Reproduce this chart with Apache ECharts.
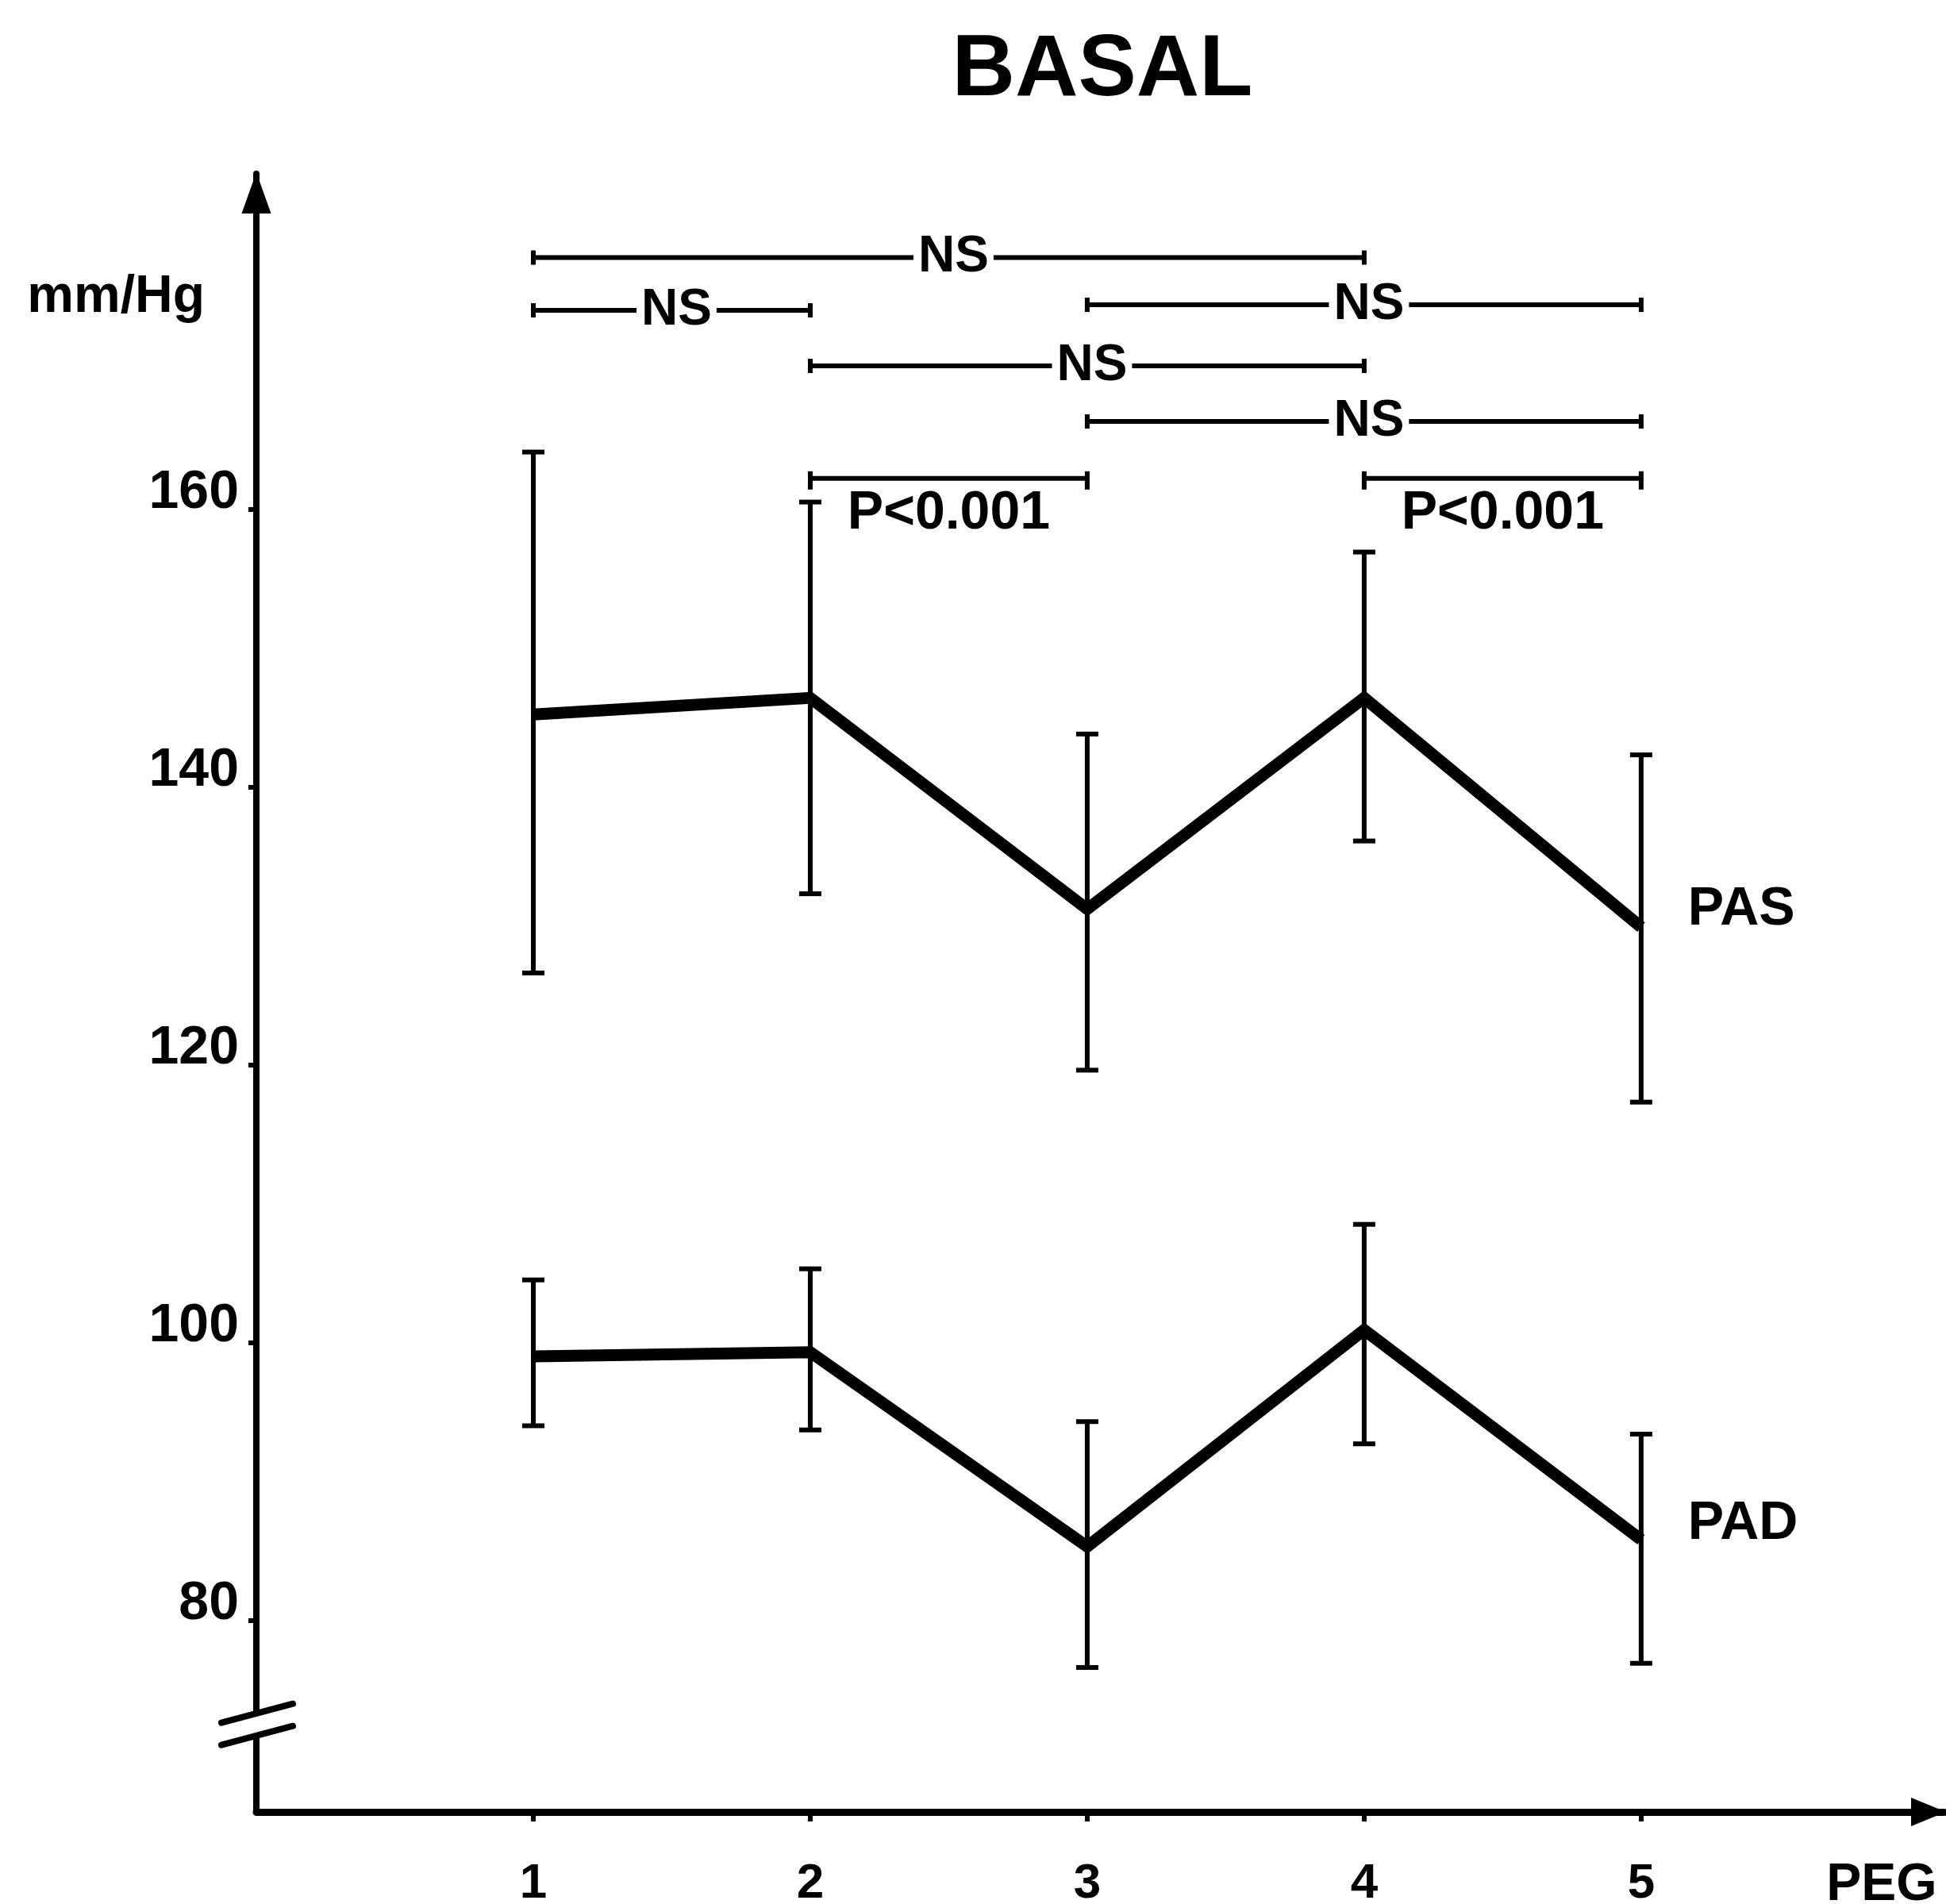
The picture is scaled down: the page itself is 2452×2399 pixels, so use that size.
<!DOCTYPE html>
<html><head><meta charset="utf-8">
<script src="https://cdn.jsdelivr.net/npm/echarts@6/dist/echarts.min.js"></script>
<style>html,body{margin:0;padding:0;background:#fff}#c{width:2452px;height:2399px}</style>
</head><body><div id="c"></div>
<script>
// ---- data ----
const groups   = [1, 2, 3, 4, 5];
const pasMean  = [145.2, 146.4, 131.2, 146.4, 129.9];
const pasLow   = [126.6, 132.3, 119.6, 136.1, 117.3];
const pasHigh  = [164.1, 160.5, 143.8, 156.9, 142.3];
const padMean  = [99.0, 99.3, 85.3, 100.9, 85.8];
const padLow   = [94.0, 93.7, 76.6, 92.7, 76.9];
const padHigh  = [104.5, 105.3, 94.3, 108.5, 93.4];
const yTicks   = [80, 100, 120, 140, 160];
const sigFrom  = [1, 1, 3, 2, 3, 2, 4];
const sigTo    = [4, 2, 5, 4, 5, 3, 5];
const sigLevel = [178.1, 174.3, 174.7, 170.3, 166.3, 162.2, 162.2];
const sigText  = ['NS', 'NS', 'NS', 'NS', 'NS', 'P<0.001', 'P<0.001'];
const breakMarks = [71.7, 73.3];

const FONT = '"Liberation Sans", Arial, Helvetica, sans-serif';
const chart = echarts.init(document.getElementById('c'), null, {renderer: 'canvas'});

const errData = groups.map((g, i) => [g, pasLow[i], pasHigh[i]])
  .concat(groups.map((g, i) => [g, padLow[i], padHigh[i]]));
const sigData = sigFrom.map((f, i) => [f, sigTo[i], sigLevel[i], i]);

const lbl = (t, dy) => ({show: true, formatter: t, distance: 59, offset: [0, dy],
  fontSize: 68, fontWeight: 'bold', color: '#000', fontFamily: FONT});

chart.setOption({
  animation: false,
  backgroundColor: '#fff',
  title: {text: 'BASAL', left: 1384, top: 30, textAlign: 'center',
    textStyle: {fontSize: 110, fontWeight: 'bold', color: '#000', fontFamily: FONT}},
  grid: {left: 323, right: 2, top: 219, bottom: 116, containLabel: false, outerBoundsMode: 'none'},
  xAxis: {
    type: 'value', min: 0, max: 6.095,
    splitLine: {show: false},
    axisLine: {show: true, symbol: ['none', 'triangle'], symbolSize: [36, 44], symbolOffset: [0, -20],
      lineStyle: {color: '#000', width: 9}},
    axisTick: {show: true, customValues: groups, length: 12, lineStyle: {color: '#000', width: 6}},
    axisLabel: {customValues: groups, margin: 60, fontSize: 62, fontWeight: 'bold', color: '#000', fontFamily: FONT},
    name: 'PEG', nameLocation: 'end', nameGap: -79,
    nameTextStyle: {align: 'center', verticalAlign: 'top', padding: [60, 0, 0, 0],
      fontSize: 66, fontWeight: 'bold', color: '#000', fontFamily: FONT}
  },
  yAxis: {
    type: 'value', min: 66.2, max: 184.13,
    splitLine: {show: false},
    axisLine: {show: true, symbol: ['none', 'triangle'], symbolSize: [37, 52], symbolOffset: [0, -24],
      lineStyle: {color: '#000', width: 8}},
    axisTick: {show: true, customValues: yTicks, length: 10, lineStyle: {color: '#000', width: 6}},
    axisLabel: {customValues: yTicks, margin: 22, verticalAlign: 'bottom', lineHeight: 40,
      fontSize: 68, fontWeight: 'bold', color: '#000', fontFamily: FONT},
    name: 'mm/Hg', nameLocation: 'end', nameGap: -156,
    nameTextStyle: {align: 'right', verticalAlign: 'middle', padding: [0, 65, 0, 0],
      fontSize: 66, fontWeight: 'bold', color: '#000', fontFamily: FONT}
  },
  series: [
    {name: 'PAS', type: 'line', data: groups.map((g, i) => [g, pasMean[i]]), symbol: 'none',
      lineStyle: {color: '#000', width: 15, join: 'miter'}, endLabel: lbl('PAS', -22)},
    {name: 'PAD', type: 'line', data: groups.map((g, i) => [g, padMean[i]]), symbol: 'none',
      lineStyle: {color: '#000', width: 15, join: 'miter'}, endLabel: lbl('PAD', -20)},
    {name: 'err', type: 'custom', data: errData, clip: false,
      renderItem(params, api) {
        const top = api.coord([api.value(0), api.value(2)]);
        const bot = api.coord([api.value(0), api.value(1)]);
        const st = {stroke: '#000', lineWidth: 6};
        return {type: 'group', children: [
          {type: 'line', shape: {x1: top[0], y1: top[1], x2: bot[0], y2: bot[1]}, style: st},
          {type: 'line', shape: {x1: top[0] - 14, y1: top[1], x2: top[0] + 14, y2: top[1]}, style: st},
          {type: 'line', shape: {x1: bot[0] - 14, y1: bot[1], x2: bot[0] + 14, y2: bot[1]}, style: st}
        ]};
      }},
    {name: 'sig', type: 'custom', data: sigData, clip: false, z: 5,
      renderItem(params, api) {
        const i = api.value(3);
        const a = api.coord([api.value(0), api.value(2)]);
        const b = api.coord([api.value(1), api.value(2)]);
        const isP = sigText[i].charAt(0) === 'P';
        const st = {stroke: '#000', lineWidth: 6};
        return {type: 'group', children: [
          {type: 'line', shape: {x1: a[0], y1: a[1], x2: b[0], y2: b[1]}, style: st},
          {type: 'line', shape: {x1: a[0], y1: a[1] - 9, x2: a[0], y2: a[1] + (isP ? 14 : 9)}, style: st},
          {type: 'line', shape: {x1: b[0], y1: b[1] - 9, x2: b[0], y2: b[1] + (isP ? 14 : 9)}, style: st},
          {type: 'text', z2: 10, style: {text: sigText[i], x: (a[0] + b[0]) / 2 + (isP ? 0 : 6), y: isP ? a[1] + 44 : a[1],
            align: 'center', verticalAlign: 'middle', fontSize: isP ? 68 : 64, fontWeight: 'bold', fontFamily: FONT,
            fill: '#000', backgroundColor: isP ? 'transparent' : '#fff', padding: [0, 6]}}
        ]};
      }},
    {name: 'break', type: 'custom', data: [[0, breakMarks[0], breakMarks[1]]], clip: false, z: 6,
      renderItem(params, api) {
        const lo = api.coord([api.value(0), api.value(1)]);
        const hi = api.coord([api.value(0), api.value(2)]);
        const st = {stroke: '#000', lineWidth: 8, lineCap: 'round'};
        return {type: 'group', children: [
          {type: 'polygon', shape: {points: [[hi[0] - 10, hi[1] + 3], [hi[0] + 10, hi[1] - 3],
            [lo[0] + 10, lo[1] - 3], [lo[0] - 10, lo[1] + 3]]}, style: {fill: '#fff'}},
          {type: 'line', shape: {x1: hi[0] - 44, y1: hi[1] + 12, x2: hi[0] + 46, y2: hi[1] - 12}, style: st},
          {type: 'line', shape: {x1: lo[0] - 44, y1: lo[1] + 12, x2: lo[0] + 46, y2: lo[1] - 12}, style: st}
        ]};
      }}
  ]
});
</script></body></html>
